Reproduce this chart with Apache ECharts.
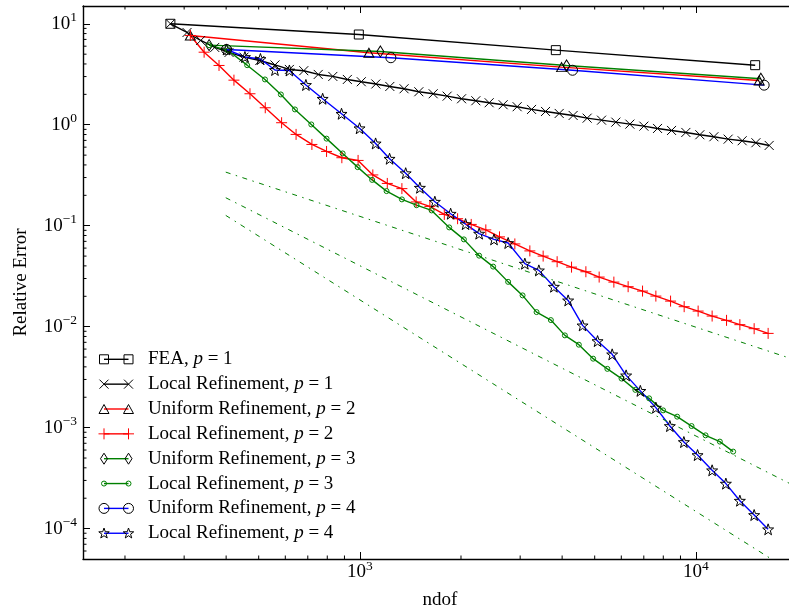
<!DOCTYPE html>
<html><head><meta charset="utf-8">
<script src="https://cdn.jsdelivr.net/npm/echarts@6/dist/echarts.min.js"></script>
<style>html,body{margin:0;padding:0;background:#fff}#c{width:789px;height:611px}</style>
</head><body><div id="c"></div>
<script>
const FONT = '"Liberation Serif", "DejaVu Serif", serif';

// ---- data (ndof, relative error) ----
const feaX = [273, 993, 3831, 15017];
const feaY = [10.0, 7.83, 5.48, 3.89];

const loc1X = [273, 306, 336, 370, 408, 452, 504, 559, 617, 681, 752, 831, 918, 1010, 1116, 1228, 1354, 1498, 1653, 1819, 2008, 2214, 2426, 2670, 2939, 3244, 3570, 3920, 4313, 4748, 5240, 5779, 6362, 7002, 7691, 8466, 9338, 10277, 11315, 12479, 13735, 15090, 16528];
const loc1Y = [10.0, 8.20, 6.83, 5.83, 5.20, 4.67, 4.33, 3.91, 3.53, 3.43, 3.15, 3.01, 2.81, 2.666, 2.535, 2.394, 2.272, 2.122, 2.027, 1.920, 1.809, 1.729, 1.651, 1.578, 1.508, 1.418, 1.354, 1.294, 1.236, 1.162, 1.110, 1.061, 1.014, 0.9685, 0.9192, 0.878, 0.839, 0.796, 0.7607, 0.720, 0.6944, 0.6635, 0.6237];

const uni2X = [313, 1064, 3985, 15433];
const uni2Y = [7.66, 5.16, 3.72, 2.746];

const loc2X = [313, 344, 381, 422, 471, 523, 585, 646, 720, 796, 884, 988, 1093, 1207, 1334, 1471, 1616, 1784, 1954, 2145, 2371, 2604, 2893, 3206, 3512, 3865, 4266, 4707, 5155, 5702, 6287, 6940, 7603, 8409, 9230, 10158, 11180, 12340, 13520, 14910, 16410];
const loc2Y = [7.66, 5.23, 3.865, 2.765, 2.027, 1.473, 1.047, 0.802, 0.638, 0.544, 0.4713, 0.4431, 0.3184, 0.2623, 0.2330, 0.1720, 0.1553, 0.1294, 0.1173, 0.1030, 0.0909, 0.0775, 0.0660, 0.0563, 0.0500, 0.0440, 0.0389, 0.0350, 0.0310, 0.02764, 0.02489, 0.02252, 0.02009, 0.01792, 0.01578, 0.01427, 0.01274, 0.01155, 0.01047, 0.00955, 0.00858];

const uni3X = [356, 1151, 4123, 15612];
const uni3Y = [6.14, 5.32, 3.865, 2.854];

const loc3X = [356, 405, 462, 522, 582, 641, 717, 796, 889, 985, 1088, 1201, 1334, 1475, 1635, 1845, 2040, 2265, 2493, 2763, 3050, 3357, 3703, 4076, 4485, 4947, 5453, 6010, 6606, 7261, 7991, 8798, 9710, 10688, 11788, 12912];
const loc3Y = [6.14, 5.44, 3.89, 2.81, 1.995, 1.418, 1.007, 0.7286, 0.5196, 0.3803, 0.2842, 0.2202, 0.1822, 0.1596, 0.1417, 0.0962, 0.0732, 0.0505, 0.03936, 0.02778, 0.02041, 0.01395, 0.01162, 0.00820, 0.00663, 0.00482, 0.00382, 0.003063, 0.002367, 0.001950, 0.001483, 0.001285, 0.001037, 0.000839, 0.000727, 0.000579];

const uni4X = [401, 1237, 4296, 15970];
const uni4Y = [5.57, 4.61, 3.464, 2.466];

const loc4X = [401, 455, 506, 559, 617, 691, 775, 882, 998, 1114, 1226, 1369, 1509, 1672, 1863, 2064, 2265, 2508, 2763, 3098, 3410, 3780, 4168, 4601, 5099, 5636, 6202, 6836, 7603, 8368, 9212, 10117, 11180, 12284, 13520, 14910, 16410];
const loc4Y = [5.57, 4.69, 4.48, 3.488, 3.448, 2.478, 1.809, 1.285, 0.9232, 0.6531, 0.4607, 0.3311, 0.2378, 0.1728, 0.1315, 0.1037, 0.0835, 0.0732, 0.0674, 0.0421, 0.0361, 0.02489, 0.01821, 0.01030, 0.00720, 0.00532, 0.003293, 0.002314, 0.001578, 0.001037, 0.000720, 0.000535, 0.000378, 0.000279, 0.000189, 0.0001363, 0.0000984];

// reference slope lines (dash-dot)
const refAX = [399, 20000], refAY = [0.3394, 0.00462];
const refBX = [399, 20000], refBY = [0.1893, 0.000257];
const refCX = [399, 20000], refCY = [0.1265, 0.0000346];

// axis extents and minor tick values
const xRange = [150, 20000];
const yRange = [5e-5, 15];
const xMinorTicks = [200, 300, 400, 500, 600, 700, 800, 900, 2000, 3000, 4000, 5000, 6000, 7000, 8000, 9000];
const yMinorTicks = [6e-5, 7e-5, 8e-5, 9e-5, 2e-4, 3e-4, 4e-4, 5e-4, 6e-4, 7e-4, 8e-4, 9e-4, 2e-3, 3e-3, 4e-3, 5e-3, 6e-3, 7e-3, 8e-3, 9e-3, 0.02, 0.03, 0.04, 0.05, 0.06, 0.07, 0.08, 0.09, 0.2, 0.3, 0.4, 0.5, 0.6, 0.7, 0.8, 0.9, 2, 3, 4, 5, 6, 7, 8, 9];

const legendLabels = [
  ['FEA, ', '1'],
  ['Local Refinement, ', '1'],
  ['Uniform Refinement, ', '2'],
  ['Local Refinement, ', '2'],
  ['Uniform Refinement, ', '3'],
  ['Local Refinement, ', '3'],
  ['Uniform Refinement, ', '4'],
  ['Local Refinement, ', '4']
];

// ---- marker shapes: subpaths in a unit box [0,1]x[0,1] ----
function starPts() {
  const pts = [];
  for (let k = 0; k < 10; k++) {
    const a = (-90 + 36 * k) * Math.PI / 180;
    const r = k % 2 === 0 ? 0.5 : 0.2;
    pts.push([0.5 + r * Math.cos(a), 0.525 + r * Math.sin(a)]);
  }
  return pts;
}
const MARK = {
  square:  { sub: [{ closed: true, pts: [[0,0],[1,0],[1,1],[0,1]] }], w: 9, h: 9 },
  cross:   { sub: [{ closed: false, pts: [[0,0],[1,1]] }, { closed: false, pts: [[0,1],[1,0]] }], w: 9, h: 9 },
  tri:     { sub: [{ closed: true, pts: [[0.5,0],[1,1],[0,1]] }], w: 10, h: 9 },
  plus:    { sub: [{ closed: false, pts: [[0,0.5],[1,0.5]] }, { closed: false, pts: [[0.5,0],[0.5,1]] }], w: 11, h: 11 },
  diamond: { sub: [{ closed: true, pts: [[0.5,0],[1,0.5],[0.5,1],[0,0.5]] }], w: 7, h: 11 },
  dot:     { circle: true, w: 5, h: 5 },
  circle:  { circle: true, w: 10, h: 10 },
  star:    { sub: [{ closed: true, pts: starPts() }], w: 11, h: 11 }
};
function symbolPath(m) {
  return 'path://' + m.sub.map(s => s.pts.map((p, i) => (i ? 'L' : 'M') + (p[0] * 100).toFixed(2) + ',' + (p[1] * 100).toFixed(2)).join('') + (s.closed ? 'Z' : '')).join('');
}

const BLACK = '#000000', RED = '#ff0000', GREEN = '#008000', BLUE = '#0000ff';
const seriesDefs = [
  { name: 'FEA, p = 1', xs: feaX, ys: feaY, color: BLACK, mark: 'square', edge: BLACK },
  { name: 'Local Refinement, p = 1', xs: loc1X, ys: loc1Y, color: BLACK, mark: 'cross', edge: BLACK },
  { name: 'Uniform Refinement, p = 2', xs: uni2X, ys: uni2Y, color: RED, mark: 'tri', edge: BLACK },
  { name: 'Local Refinement, p = 2', xs: loc2X, ys: loc2Y, color: RED, mark: 'plus', edge: RED },
  { name: 'Uniform Refinement, p = 3', xs: uni3X, ys: uni3Y, color: GREEN, mark: 'diamond', edge: BLACK },
  { name: 'Local Refinement, p = 3', xs: loc3X, ys: loc3Y, color: GREEN, mark: 'dot', edge: GREEN },
  { name: 'Uniform Refinement, p = 4', xs: uni4X, ys: uni4Y, color: BLUE, mark: 'circle', edge: BLACK },
  { name: 'Local Refinement, p = 4', xs: loc4X, ys: loc4Y, color: BLUE, mark: 'star', edge: BLACK }
];

const zip = (xs, ys) => xs.map((x, i) => [x, ys[i]]);

const series = seriesDefs.map(d => {
  const m = MARK[d.mark];
  return {
    type: 'line', name: d.name, data: zip(d.xs, d.ys),
    xAxisIndex: 0, yAxisIndex: 0,
    symbol: m.circle ? 'circle' : symbolPath(m),
    symbolSize: [m.w, m.h], symbolKeepAspect: false,
    showSymbol: true, showAllSymbol: true,
    lineStyle: { color: d.color, width: 1.4 },
    itemStyle: { color: 'rgba(0,0,0,0)', borderColor: d.edge, borderWidth: 1 },
    emphasis: { disabled: true }, silent: true, animation: false
  };
});

[[refAX, refAY], [refBX, refBY], [refCX, refCY]].forEach(([xs, ys]) => {
  series.push({
    type: 'line', data: zip(xs, ys), symbol: 'none', silent: true, animation: false,
    lineStyle: { color: GREEN, width: 1, type: [5, 5.5, 1.5, 5.5] }
  });
});

// minor ticks (log-spaced), drawn inward on bottom/top and left
series.push({
  type: 'custom', silent: true, clip: false, z: 10, animation: false,
  data: xMinorTicks.map(v => [v, 1]),
  renderItem(params, api) {
    const p = api.coord([api.value(0), api.value(1)]);
    const cs = params.coordSys;
    const yb = cs.y + cs.height, yt = cs.y;
    return { type: 'group', children: [
      { type: 'line', shape: { x1: p[0], y1: yb, x2: p[0], y2: yb - 3.5 }, style: { stroke: '#000', lineWidth: 1 } },
      { type: 'line', shape: { x1: p[0], y1: yt, x2: p[0], y2: yt + 3.5 }, style: { stroke: '#000', lineWidth: 1 } }
    ]};
  }
});
series.push({
  type: 'custom', silent: true, clip: false, z: 10, animation: false,
  data: yMinorTicks.map(v => [1000, v]),
  renderItem(params, api) {
    const p = api.coord([api.value(0), api.value(1)]);
    const cs = params.coordSys;
    return { type: 'line', shape: { x1: cs.x, y1: p[1], x2: cs.x + 3.5, y2: p[1] }, style: { stroke: '#000', lineWidth: 1 } };
  }
});

const supLabel = v => {
  const l = Math.log10(v); const e = Math.round(l);
  if (Math.abs(l - e) > 1e-6) return '';
  const s = e < 0 ? '\u2212' + (-e) : String(e);
  return '{b|10}{e|' + s + '}';
};
const labelRich = {
  b: { fontFamily: FONT, fontSize: 19, color: '#000', verticalAlign: 'bottom', lineHeight: 20 },
  e: { fontFamily: FONT, fontSize: 13.5, color: '#000', verticalAlign: 'bottom', lineHeight: 14, padding: [0, 0, 9, 0] }
};
const axisLineStyle = { show: true, lineStyle: { color: '#000', width: 1.4 } };
const tickStyle = { show: true, inside: true, length: 7, lineStyle: { color: '#000', width: 1 } };

// legend drawn as graphic (line with two markers + text)
const graphics = [];
const legX1 = 104, legX2 = 128.5, legTextX = 148, legY0 = 359.3, legDY = 24.85;
function markerEls(mk, cx, cy, edge) {
  const m = MARK[mk];
  if (m.circle) return [{ type: 'circle', shape: { cx, cy, r: m.w / 2 }, style: { fill: 'none', stroke: edge, lineWidth: 1 }, z: 102 }];
  return m.sub.map(s => {
    const pts = s.pts.map(p => [cx - m.w / 2 + p[0] * m.w, cy - m.h / 2 + p[1] * m.h]);
    return { type: s.closed ? 'polygon' : 'polyline', shape: { points: pts },
             style: { fill: 'none', stroke: edge, lineWidth: 1 }, z: 102 };
  });
}
seriesDefs.forEach((d, i) => {
  const y = legY0 + i * legDY;
  graphics.push({ type: 'line', shape: { x1: legX1, y1: y, x2: legX2, y2: y }, style: { stroke: d.color, lineWidth: 1.4 }, z: 101 });
  markerEls(d.mark, legX1, y, d.edge).forEach(e => graphics.push(e));
  markerEls(d.mark, legX2, y, d.edge).forEach(e => graphics.push(e));
  const [pre, num] = legendLabels[i];
  graphics.push({ type: 'text', x: legTextX, y: y, z: 101,
    style: { text: '{t|' + pre + '}{i|p}{t| = ' + num + '}', verticalAlign: 'middle', align: 'left', fill: '#000',
      rich: { t: { fontFamily: FONT, fontSize: 19, fill: '#000' }, i: { fontFamily: FONT, fontSize: 19, fontStyle: 'italic', fill: '#000' } } } });
});

const chart = echarts.init(document.getElementById('c'), null, { renderer: 'canvas' });
chart.setOption({
  animation: false,
  backgroundColor: '#fff',
  grid: { left: 83, top: 6, right: -8, bottom: 52, containLabel: false, outerBoundsMode: 'none' },
  xAxis: [
    { type: 'log', logBase: 10, min: xRange[0], max: xRange[1], position: 'bottom',
      name: 'ndof', nameLocation: 'middle', nameGap: 32, nameMoveOverlap: false,
      nameTextStyle: { fontFamily: FONT, fontSize: 19, color: '#000' },
      axisLine: axisLineStyle, axisTick: tickStyle,
      axisLabel: { formatter: supLabel, rich: labelRich, margin: 3, showMinLabel: false, showMaxLabel: false },
      splitLine: { show: false }, minorTick: { show: false } },
    { type: 'log', logBase: 10, min: xRange[0], max: xRange[1], position: 'top',
      axisLine: axisLineStyle, axisTick: tickStyle, axisLabel: { show: false }, splitLine: { show: false } }
  ],
  yAxis: [
    { type: 'log', logBase: 10, min: yRange[0], max: yRange[1], position: 'left',
      name: 'Relative Error', nameLocation: 'middle', nameGap: 52, nameRotate: 90, nameMoveOverlap: false,
      nameTextStyle: { fontFamily: FONT, fontSize: 19, color: '#000' },
      axisLine: axisLineStyle, axisTick: tickStyle,
      axisLabel: { formatter: supLabel, rich: labelRich, margin: 6, showMinLabel: false, showMaxLabel: false },
      splitLine: { show: false } }
  ],
  series: series,
  graphic: { elements: graphics }
});
</script></body></html>
